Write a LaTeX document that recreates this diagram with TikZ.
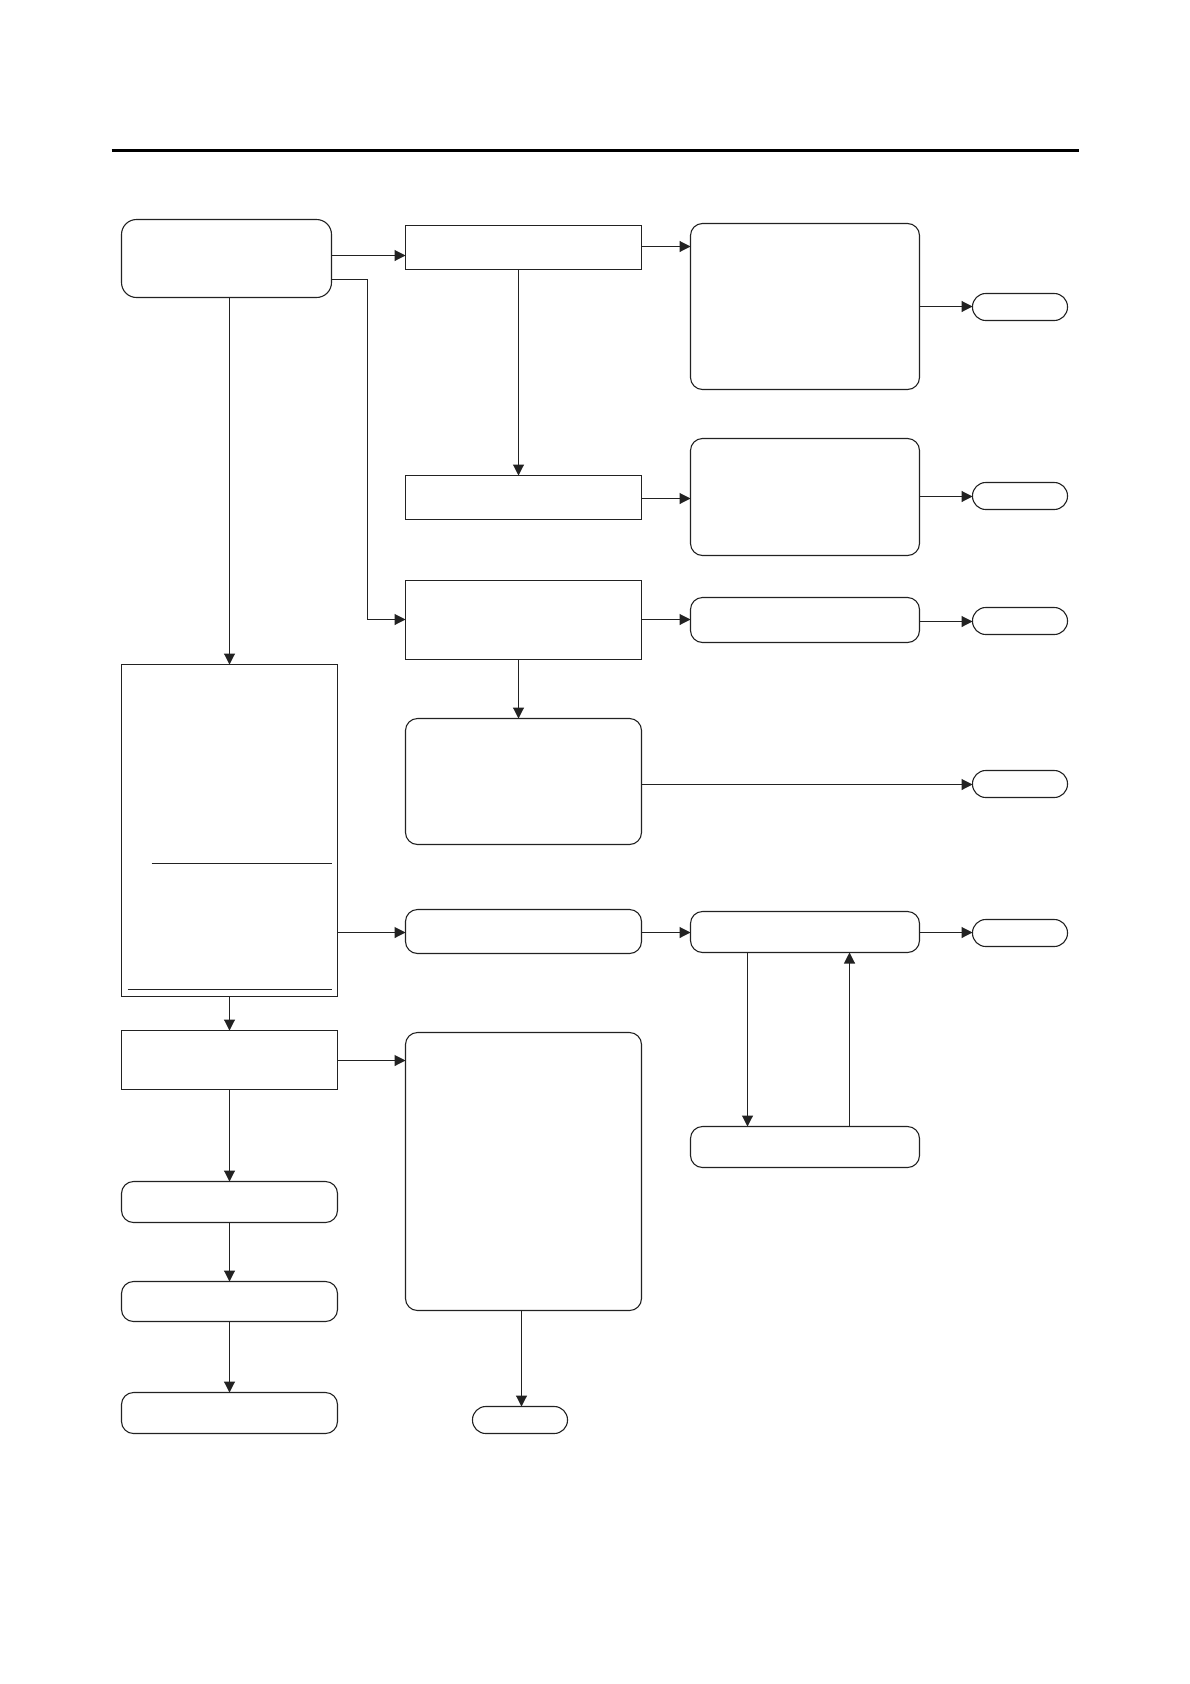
\documentclass[tikz,border=0pt]{standalone}
\usetikzlibrary{arrows.meta,calc}
\definecolor{ink}{HTML}{222222}
\begin{document}
\begin{tikzpicture}[x=1pt,y=-1pt,
  base/.style={draw=ink,line width=1.1pt,inner sep=0pt,outer sep=0pt,anchor=north west},
  sbox/.style={base},
  rbox/.style={base,rounded corners=12pt},
  abox/.style={base,rounded corners=15pt},
  term/.style={base,rounded corners=13.3pt},
  arr/.style={draw=ink,line width=1.1pt,-{Triangle[length=11pt,width=11pt]}},
  conn/.style={draw=ink,line width=1.1pt}]
\useasboundingbox (0,0) rectangle (1190,1684);
% box macro: name, style, x1,y1,x2,y2
\newcommand{\bx}[6]{\node[#2,minimum width={#5-#3},minimum height={#6-#4}] (#1) at (#3,#4) {};}
\draw[draw=black,line width=2.8pt] (111.5,150.7) -- (1079,150.7);
\bx{A}{abox}{121.5}{219.5}{331.5}{297.5}
\bx{B}{sbox}{405.5}{225.5}{641.5}{269.5}
\bx{C}{sbox}{405.5}{475.5}{641.5}{519.5}
\bx{D}{rbox}{690.5}{223.5}{919.5}{389.5}
\bx{E}{rbox}{690.5}{438.5}{919.5}{555.5}
\bx{F}{sbox}{405.5}{580.5}{641.5}{659.5}
\bx{G}{rbox}{690.5}{597.5}{919.5}{642.5}
\bx{I}{rbox}{405.5}{718.5}{641.5}{844.5}
\bx{H}{sbox}{121.5}{664.5}{337.5}{996.5}
\bx{J}{rbox}{405.5}{909.5}{641.5}{953.5}
\bx{K}{rbox}{690.5}{911.5}{919.5}{952.5}
\bx{Q}{rbox}{690.5}{1126.5}{919.5}{1167.5}
\bx{L}{sbox}{121.5}{1030.5}{337.5}{1089.5}
\bx{M}{rbox}{405.5}{1032.5}{641.5}{1310.5}
\bx{N}{rbox}{121.5}{1181.5}{337.5}{1222.5}
\bx{O}{rbox}{121.5}{1281.5}{337.5}{1321.5}
\bx{P}{rbox}{121.5}{1392.5}{337.5}{1433.5}
\bx{Ta}{term}{972.5}{293.5}{1067.5}{320.5}
\bx{Tb}{term}{972.5}{482.5}{1067.5}{509.5}
\bx{Tc}{term}{972.5}{607.5}{1067.5}{634.5}
\bx{Td}{term}{972.5}{770.5}{1067.5}{797.5}
\bx{Te}{term}{972.5}{919.5}{1067.5}{946.5}
\bx{Tf}{term}{472.5}{1406.5}{567.5}{1433.5}
% inner rules of H
\draw[conn] ([xshift=30pt]H.west |- 0,863.5) -- ([xshift=-6pt]H.east |- 0,863.5);
\draw[conn] ([xshift=6pt]H.west |- 0,989.5) -- ([xshift=-6pt]H.east |- 0,989.5);
% connectors
\draw[arr] (A.east |- 0,255.5) -- (B.west |- 0,255.5);
\draw[arr] (A.east |- 0,279.5) -- (367.5,279.5) |- (F.west |- 0,619.5);
\draw[arr] (A.south -| H.north) -- (H.north);
\draw[arr] (B.south -| 518.5,0) -- (C.north -| 518.5,0);
\draw[arr] (B.east |- 0,246.5) -- (D.west |- 0,246.5);
\draw[arr] (C.east |- 0,498.5) -- (E.west |- 0,498.5);
\draw[arr] (D.east |- 0,306.5) -- (Ta.west |- 0,306.5);
\draw[arr] (E.east |- 0,496.5) -- (Tb.west |- 0,496.5);
\draw[arr] (F.east |- 0,619.5) -- (G.west |- 0,619.5);
\draw[arr] (G.east |- 0,621.5) -- (Tc.west |- 0,621.5);
\draw[arr] (F.south -| 518.5,0) -- (I.north -| 518.5,0);
\draw[arr] (I.east |- 0,784.5) -- (Td.west |- 0,784.5);
\draw[arr] (H.east |- 0,932.5) -- (J.west |- 0,932.5);
\draw[arr] (J.east |- 0,932.5) -- (K.west |- 0,932.5);
\draw[arr] (K.east |- 0,932.5) -- (Te.west |- 0,932.5);
\draw[arr] (K.south -| 747.5,0) -- (Q.north -| 747.5,0);
\draw[arr] (Q.north -| 849.5,0) -- (K.south -| 849.5,0);
\draw[arr] (H.south) -- (L.north);
\draw[arr] (L.east |- 0,1060.5) -- (M.west |- 0,1060.5);
\draw[arr] (L.south) -- (N.north);
\draw[arr] (N.south) -- (O.north);
\draw[arr] (O.south) -- (P.north);
\draw[arr] (M.south -| 521.5,0) -- (Tf.north -| 521.5,0);
\end{tikzpicture}
\end{document}
